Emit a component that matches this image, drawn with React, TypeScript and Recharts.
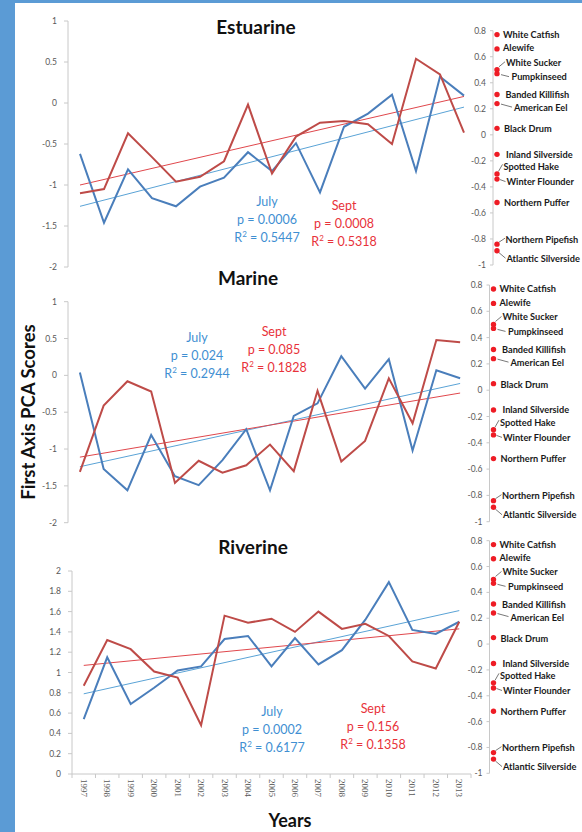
// Three-panel PCA score chart (Estuarine / Marine / Riverine) with July and Sept series,
// trend lines and the species loading axis on the right of each panel.

import React from 'react';
import { LineChart, Line, XAxis, YAxis, ReferenceLine, ScatterChart, Scatter } from 'recharts';

const YEARS = ['1997', '1998', '1999', '2000', '2001', '2002', '2003', '2004', '2005', '2006', '2007', '2008', '2009', '2010', '2011', '2012', '2013'];

const ESTUARINE_JULY = [-0.62, -1.46, -0.81, -1.16, -1.26, -1.02, -0.91, -0.6, -0.83, -0.49, -1.09, -0.29, -0.13, 0.1, -0.83, 0.32, 0.09];
const ESTUARINE_SEPT = [-1.1, -1.05, -0.37, -0.66, -0.96, -0.9, -0.71, -0.02, -0.86, -0.41, -0.24, -0.22, -0.26, -0.5, 0.54, 0.35, -0.36];
const MARINE_JULY = [0.04, -1.27, -1.56, -0.81, -1.37, -1.49, -1.15, -0.73, -1.56, -0.55, -0.38, 0.26, -0.18, 0.22, -1.02, 0.07, -0.04];
const MARINE_SEPT = [-1.31, -0.41, -0.08, -0.22, -1.46, -1.16, -1.32, -1.22, -0.94, -1.3, -0.21, -1.17, -0.89, -0.04, -0.65, 0.48, 0.45];
const RIVERINE_JULY = [0.54, 1.15, 0.69, 0.85, 1.02, 1.06, 1.33, 1.36, 1.06, 1.34, 1.08, 1.22, 1.52, 1.89, 1.42, 1.38, 1.5];
const RIVERINE_SEPT = [0.87, 1.32, 1.23, 1.01, 0.95, 0.48, 1.56, 1.49, 1.53, 1.4, 1.6, 1.43, 1.48, 1.36, 1.11, 1.04, 1.5];

// trend line values at 1997 and 2013
const ESTUARINE_TREND_JULY = [-1.26, -0.05];
const ESTUARINE_TREND_SEPT = [-1.0, 0.08];
const MARINE_TREND_JULY = [-1.24, -0.11];
const MARINE_TREND_SEPT = [-1.11, -0.24];
const RIVERINE_TREND_JULY = [0.79, 1.61];
const RIVERINE_TREND_SEPT = [1.07, 1.43];

const ESTUARINE_STATS = { july: ['0.0006', '0.5447'], sept: ['0.0008', '0.5318'] };
const MARINE_STATS = { july: ['0.024', '0.2944'], sept: ['0.085', '0.1828'] };
const RIVERINE_STATS = { july: ['0.0002', '0.6177'], sept: ['0.156', '0.1358'] };

const SCORE_TICKS = [1, 0.5, 0, -0.5, -1, -1.5, -2];
const RIVERINE_TICKS = [2, 1.8, 1.6, 1.4, 1.2, 1, 0.8, 0.6, 0.4, 0.2, 0];

const SPECIES = ['White Catfish', 'Alewife', 'White Sucker', 'Pumpkinseed', 'Banded Killifish', 'American Eel', 'Black Drum', 'Inland Silverside', 'Spotted Hake', 'Winter Flounder', 'Northern Puffer', 'Northern Pipefish', 'Atlantic Silverside'];
const SPECIES_SCORES = [0.77, 0.66, 0.5, 0.47, 0.31, 0.24, 0.05, -0.15, -0.3, -0.34, -0.52, -0.84, -0.89];
const SPECIES_TICKS = [0.8, 0.6, 0.4, 0.2, 0, -0.2, -0.4, -0.6, -0.8, -1];

// label placement relative to the dot, with optional leader line
const LABEL_PLACE: Record<string, { dx: number; dy: number; lead?: number[] }> = {
  'White Catfish': { dx: 6, dy: 0 },
  'Alewife': { dx: 6, dy: -1 },
  'White Sucker': { dx: 9, dy: -7.5, lead: [2, -3, 8, -8] },
  'Pumpkinseed': { dx: 14.5, dy: 3, lead: [4, 1, 12, 3] },
  'Banded Killifish': { dx: 8.5, dy: 0.5 },
  'American Eel': { dx: 17, dy: 4, lead: [4, 0.5, 15, 3.5] },
  'Black Drum': { dx: 7, dy: 0.5 },
  'Inland Silverside': { dx: 9, dy: 0 },
  'Spotted Hake': { dx: 6.5, dy: -7, lead: [1.5, -2.5, 5.5, -9.5] },
  'Winter Flounder': { dx: 9.5, dy: 2.5, lead: [3, 0.5, 8.5, 2.5] },
  'Northern Puffer': { dx: 7, dy: 0 },
  'Northern Pipefish': { dx: 8.5, dy: -5, lead: [2, -2, 8, -6] },
  'Atlantic Silverside': { dx: 9.5, dy: 7.5, lead: [2, 2, 8.5, 7.5] },
};

const BLUE = '#4a7ebb';
const RED = '#be4b48';
const BLUE_TREND = '#5aa3d6';
const RED_TREND = '#e0474c';
const BLUE_TEXT = '#3f8fd2';
const RED_TEXT = '#e8323a';
const AXIS_GRAY = '#c8c8c8';
const TICK_TEXT = '#595959';
const FONT = 'Lato, "Open Sans", sans-serif';

const tickStyle = { fontSize: 8.5, fill: TICK_TEXT, fontFamily: FONT };

const makeYearTick = (half: number, last: number) => (props: any) => {
  const { x, y, payload, index } = props;
  return (
    <g>
      <line x1={x - half} x2={x - half} y1={y} y2={y + 4} stroke={AXIS_GRAY} />
      {index === last && <line x1={x + half} x2={x + half} y1={y} y2={y + 4} stroke={AXIS_GRAY} />}
      <text
        x={x}
        y={y + 5}
        transform={`rotate(90, ${x}, ${y + 5})`}
        textAnchor="start"
        dominantBaseline="central"
        fontSize={9}
        fontFamily='"Liberation Serif", serif'
        fill={TICK_TEXT}
      >
        {payload.value}
      </text>
    </g>
  );
};

const renderSpecies = (props: any) => {
  const { cx, cy, payload } = props;
  const place = LABEL_PLACE[payload.name] || { dx: 6, dy: 0 };
  return (
    <g>
      <circle cx={cx} cy={cy} r={2.7} fill="#ee1c25" />
      {place.lead && (
        <line
          x1={cx + place.lead[0]}
          y1={cy + place.lead[1]}
          x2={cx + place.lead[2]}
          y2={cy + place.lead[3]}
          stroke="#555"
          strokeWidth={0.8}
        />
      )}
      <text
        x={cx + place.dx}
        y={cy + place.dy}
        dominantBaseline="central"
        fontSize={9.2}
        fontWeight={700}
        fontFamily={FONT}
        fill="#1a1a1a"
      >
        {payload.name}
      </text>
    </g>
  );
};

interface MainProps {
  top: number;
  width: number;
  height: number;
  axisX: number;
  plotTop: number;
  plotBottom: number;
  july: number[];
  sept: number[];
  trendJuly: number[];
  trendSept: number[];
  domain: [number, number];
  ticks: number[];
  showYears?: boolean;
}

const MainChart: React.FC<MainProps> = (p) => {
  const rows = YEARS.map((year, i) => ({ year, july: p.july[i], sept: p.sept[i] }));
  const plotWidth = p.width - 2 - p.axisX;
  const pad = plotWidth / (YEARS.length * 2);
  const xAxisHeight = p.showYears ? 30 : 0;
  const first = YEARS[0];
  const lastYear = YEARS[YEARS.length - 1];
  return (
    <div style={{ position: 'absolute', left: 0, top: p.top }}>
      <LineChart
        width={p.width}
        height={p.height}
        data={rows}
        margin={{ top: p.plotTop, right: 2, left: 0, bottom: p.height - p.plotBottom - xAxisHeight }}
      >
        <XAxis
          dataKey="year"
          hide={!p.showYears}
          height={xAxisHeight}
          padding={{ left: pad, right: pad }}
          axisLine={{ stroke: AXIS_GRAY }}
          tickLine={false}
          tickSize={0}
          tickMargin={0}
          interval={0}
          tick={makeYearTick(pad, YEARS.length - 1)}
        />
        <YAxis
          type="number"
          domain={p.domain}
          ticks={p.ticks}
          interval={0}
          width={p.axisX}
          tickSize={4}
          tickMargin={7}
          axisLine={{ stroke: AXIS_GRAY }}
          tickLine={{ stroke: AXIS_GRAY }}
          tick={tickStyle}
        />
        <ReferenceLine
          segment={[{ x: first, y: p.trendJuly[0] }, { x: lastYear, y: p.trendJuly[1] }]}
          stroke={BLUE_TREND}
          strokeWidth={1}
        />
        <ReferenceLine
          segment={[{ x: first, y: p.trendSept[0] }, { x: lastYear, y: p.trendSept[1] }]}
          stroke={RED_TREND}
          strokeWidth={1}
        />
        <Line type="linear" dataKey="july" stroke={BLUE} strokeWidth={2} dot={false} isAnimationActive={false} />
        <Line type="linear" dataKey="sept" stroke={RED} strokeWidth={2} dot={false} isAnimationActive={false} />
      </LineChart>
    </div>
  );
};

interface SpeciesProps {
  top: number;
  height: number;
  axisX: number;
  plotTop: number;
  plotBottom: number;
}

const SpeciesChart: React.FC<SpeciesProps> = (p) => {
  const rows = SPECIES.map((name, i) => ({ name, score: SPECIES_SCORES[i], col: 0 }));
  const left = 440;
  return (
    <div style={{ position: 'absolute', left, top: p.top }}>
      <ScatterChart
        width={582 - left}
        height={p.height}
        margin={{ top: p.plotTop, right: 0, left: 0, bottom: p.height - p.plotBottom }}
        style={{ overflow: 'visible' }}
      >
        <XAxis type="number" dataKey="col" domain={[0, 1]} hide padding={{ left: 4, right: 0 }} />
        <YAxis
          type="number"
          dataKey="score"
          domain={[-1, 0.8]}
          ticks={SPECIES_TICKS}
          interval={0}
          width={p.axisX - left}
          tickSize={3}
          tickMargin={4}
          axisLine={{ stroke: AXIS_GRAY }}
          tickLine={{ stroke: AXIS_GRAY }}
          tick={tickStyle}
        />
        <Scatter data={rows} shape={renderSpecies} isAnimationActive={false} />
      </ScatterChart>
    </div>
  );
};

const Stats: React.FC<{ label: string; p: string; r: string; cx: number; top: number; color: string }> = ({ label, p, r, cx, top, color }) => (
  <div
    style={{
      position: 'absolute',
      left: cx - 60,
      top,
      width: 120,
      textAlign: 'center',
      color,
      fontFamily: FONT,
      fontSize: 12.5,
      lineHeight: '18px',
    }}
  >
    <div>{label}</div>
    <div>p = {p}</div>
    <div>
      R<sup style={{ fontSize: 8, verticalAlign: 'top', lineHeight: '10px' }}>2</sup> = {r}
    </div>
  </div>
);

const Title: React.FC<{ text: string; cx: number; cy: number }> = ({ text, cx, cy }) => (
  <div
    style={{
      position: 'absolute',
      left: cx - 80,
      top: cy - 12,
      width: 160,
      height: 24,
      lineHeight: '24px',
      textAlign: 'center',
      fontFamily: FONT,
      fontWeight: 700,
      fontSize: 19,
      color: '#111',
    }}
  >
    {text}
  </div>
);

const App: React.FC = () => {
  return (
    <div
      style={{
        position: 'absolute',
        left: 0,
        top: 0,
        width: 582,
        height: 832,
        background: '#ffffff',
        overflow: 'hidden',
        fontFamily: FONT,
      }}
    >
      <div style={{ position: 'absolute', left: 0, top: 0, width: 15, height: 832, background: '#5b9bd5' }} />
      <div style={{ position: 'absolute', left: 0, top: 0, width: 582, height: 3, background: '#5b9bd5' }} />

      <Title text="Estuarine" cx={256} cy={27} />
      <MainChart
        top={0}
        width={478}
        height={272}
        axisX={68}
        plotTop={21}
        plotBottom={267}
        july={ESTUARINE_JULY}
        sept={ESTUARINE_SEPT}
        trendJuly={ESTUARINE_TREND_JULY}
        trendSept={ESTUARINE_TREND_SEPT}
        domain={[-2, 1]}
        ticks={SCORE_TICKS}
      />
      <SpeciesChart top={0} height={275} axisX={493} plotTop={30.7} plotBottom={265} />
      <Stats label="July" p={ESTUARINE_STATS.july[0]} r={ESTUARINE_STATS.july[1]} cx={267} top={192.5} color={BLUE_TEXT} />
      <Stats label="Sept" p={ESTUARINE_STATS.sept[0]} r={ESTUARINE_STATS.sept[1]} cx={344} top={196.5} color={RED_TEXT} />

      <Title text="Marine" cx={248} cy={278} />
      <MainChart
        top={270}
        width={474}
        height={262}
        axisX={68}
        plotTop={31.7}
        plotBottom={252.7}
        july={MARINE_JULY}
        sept={MARINE_SEPT}
        trendJuly={MARINE_TREND_JULY}
        trendSept={MARINE_TREND_SEPT}
        domain={[-2, 1]}
        ticks={SCORE_TICKS}
      />
      <SpeciesChart top={270} height={262} axisX={489.5} plotTop={15} plotBottom={251.7} />
      <Stats label="July" p={MARINE_STATS.july[0]} r={MARINE_STATS.july[1]} cx={197} top={329.3} color={BLUE_TEXT} />
      <Stats label="Sept" p={MARINE_STATS.sept[0]} r={MARINE_STATS.sept[1]} cx={274} top={323.3} color={RED_TEXT} />

      <Title text="Riverine" cx={253} cy={547} />
      <MainChart
        top={530}
        width={473}
        height={300}
        axisX={72}
        plotTop={41}
        plotBottom={244}
        july={RIVERINE_JULY}
        sept={RIVERINE_SEPT}
        trendJuly={RIVERINE_TREND_JULY}
        trendSept={RIVERINE_TREND_SEPT}
        domain={[0, 2]}
        ticks={RIVERINE_TICKS}
        showYears
      />
      <SpeciesChart top={530} height={255} axisX={489.5} plotTop={10.7} plotBottom={243.3} />
      <Stats label="July" p={RIVERINE_STATS.july[0]} r={RIVERINE_STATS.july[1]} cx={272} top={702.7} color={BLUE_TEXT} />
      <Stats label="Sept" p={RIVERINE_STATS.sept[0]} r={RIVERINE_STATS.sept[1]} cx={373} top={700} color={RED_TEXT} />

      <div
        style={{
          position: 'absolute',
          left: 28 - 110,
          top: 412 - 12,
          width: 220,
          height: 24,
          lineHeight: '24px',
          textAlign: 'center',
          transform: 'rotate(-90deg)',
          fontWeight: 700,
          fontSize: 18.5,
          color: '#111',
        }}
      >
        First Axis PCA Scores
      </div>
      <div
        style={{
          position: 'absolute',
          left: 290 - 50,
          top: 820 - 12,
          width: 100,
          height: 24,
          lineHeight: '24px',
          textAlign: 'center',
          fontWeight: 700,
          fontSize: 18,
          color: '#111',
        }}
      >
        Years
      </div>
    </div>
  );
};

export default App;
